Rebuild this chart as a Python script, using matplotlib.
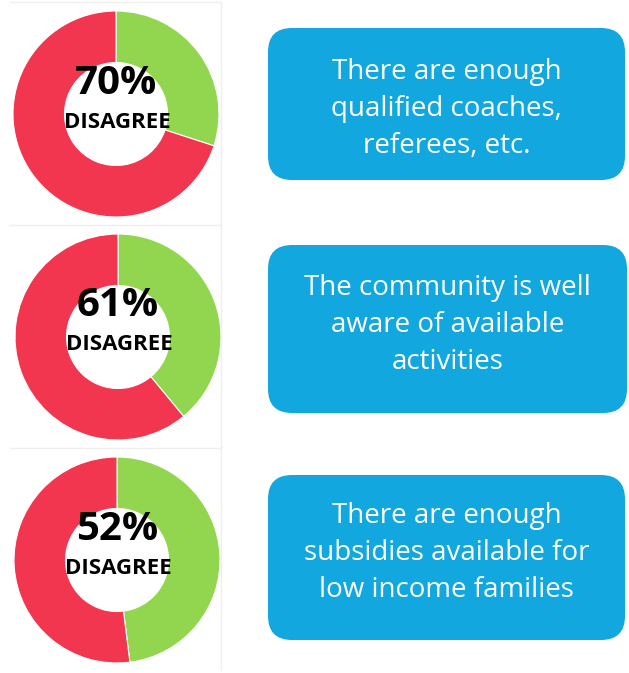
import matplotlib.pyplot as plt
from matplotlib.patches import FancyBboxPatch

# survey results (percent)
disagree = [70, 61, 52]
agree = [30, 39, 48]
statements = [
    "There are enough\nqualified coaches,\nreferees, etc.",
    "The community is well\naware of available\nactivities",
    "There are enough\nsubsidies available for\nlow income families",
]

W, H = 629, 673
fig = plt.figure(figsize=(W / 100, H / 100), dpi=100)
ax = fig.add_axes([0, 0, 1, 1])

# layout in pixels (y measured from top)
donut_centers = [(116, 114), (118, 337), (117, 560)]
R = 103
boxes = [(268, 28, 357, 152), (268, 245, 359, 168), (268, 475, 357, 165)]
text_y = [109, 325, 553]

red = "#F2364F"
green = "#92D650"
blue = "#12A7DE"

for i in range(3):
    cx, cy = donut_centers[i]
    ax.pie([agree[i], disagree[i]], colors=[green, red], startangle=90,
           counterclock=False, center=(cx, H - cy), radius=R,
           wedgeprops=dict(width=R * 0.5, edgecolor="white", linewidth=0.8))
    ax.text(cx, H - cy + 31, f"{disagree[i]}%", ha="center", va="center",
            fontsize=29, fontweight="bold", family="Open Sans", color="black")
    ax.text(cx + 1, H - cy - 8, "DISAGREE", ha="center", va="center",
            fontsize=16, fontweight="bold", family="Open Sans", color="black")

    # faint panel outline behind each donut
    ax.plot([10, 220], [H - (cy - 112), H - (cy - 112)], color="#efefef", lw=1)
    ax.plot([221, 221], [H - (cy - 112), H - (cy + 110)], color="#efefef", lw=1)

    bx, by, bw, bh = boxes[i]
    ax.add_patch(FancyBboxPatch((bx, H - by - bh), bw, bh,
                                boxstyle="round,pad=0,rounding_size=24",
                                facecolor=blue, edgecolor="none"))
    ax.text(bx + bw / 2, H - text_y[i], statements[i], ha="center", va="center",
            fontsize=20, color="white", family="Open Sans", linespacing=1.45)

ax.set_xlim(0, W)
ax.set_ylim(0, H)
ax.set_aspect("auto")
ax.axis("off")

fig.savefig("out.png", dpi=100)
